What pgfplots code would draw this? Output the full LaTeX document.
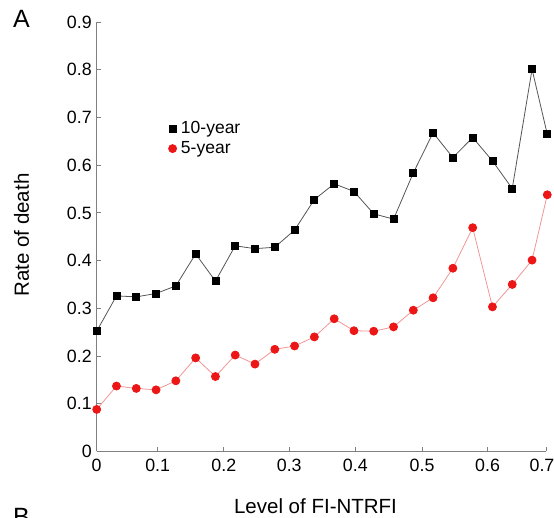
\documentclass[border=0pt]{standalone}
\usepackage{fontspec}
\setmainfont{Liberation Sans}
\usepackage{pgfplots}
\usepackage{pgfplotstable}
\pgfplotsset{compat=1.18}

\definecolor{axgray}{RGB}{128,128,128}
\definecolor{linegray}{RGB}{85,85,85}
\definecolor{pinkline}{RGB}{240,150,150}
\definecolor{dotred}{RGB}{236,22,22}

% level of FI-NTRFI, 10-year and 5-year rate of death
\pgfplotstableread{
x      tenyr  fiveyr
0.0000 0.252  0.088
0.0308 0.326  0.137
0.0617 0.324  0.132
0.0925 0.331  0.129
0.1233 0.347  0.148
0.1542 0.414  0.196
0.1850 0.357  0.157
0.2158 0.431  0.202
0.2466 0.425  0.183
0.2775 0.428  0.214
0.3083 0.464  0.221
0.3391 0.528  0.240
0.3700 0.561  0.278
0.4008 0.545  0.253
0.4316 0.498  0.252
0.4625 0.487  0.261
0.4933 0.584  0.296
0.5241 0.668  0.322
0.5549 0.616  0.384
0.5858 0.658  0.469
0.6166 0.609  0.303
0.6474 0.551  0.350
0.6783 0.801  0.401
0.7020 0.665  0.538
}\deathrates

\begin{document}
\begin{tikzpicture}[x=1pt,y=1pt]
\useasboundingbox (0,0) rectangle (554,518);
\node[anchor=base west,inner sep=0pt,font=\fontsize{25}{28}\selectfont] at (13,490) {A};
\node[anchor=base west,inner sep=0pt,font=\fontsize{25}{28}\selectfont] at (13,-8) {B};
\begin{axis}[
  at={(96.7pt,66.6pt)}, anchor=south west,
  scale only axis, width=449.3pt, height=429.3pt,
  xmin=0, xmax=0.7, ymin=0, ymax=0.9,
  axis x line*=bottom, axis y line*=left,
  axis line style={axgray, line width=0.8pt},
  tick style={axgray, line width=0.8pt},
  tick align=inside, major tick length=4pt,
  xtick={0,0.095,0.198,0.300,0.403,0.507,0.609,0.7},
  xticklabels={0,0.1,0.2,0.3,0.4,0.5,0.6,{\hspace*{-8pt}0.7}},
  ytick={0,0.1,...,0.9},
  yticklabel style={/pgf/number format/fixed, /pgf/number format/precision=1, xshift=-1.5pt},
  xticklabel style={yshift=-4.5pt},
  /pgf/number format/assume math mode=true,
  ticklabel style={font=\fontsize{17.8}{21}\selectfont},
  xlabel={Level of FI-NTRFI},
  ylabel={Rate of death},
  label style={font=\fontsize{20.5}{23}\selectfont},
  xlabel style={at={(axis description cs:0.487,-0.145)}, anchor=base},
  ylabel style={at={(axis description cs:-0.167,0.504)}, anchor=center},
  clip=false,
  legend style={at={(axis description cs:0.152,0.778)}, anchor=north west,
    draw=none, fill=none, font=\fontsize{17.5}{20}\selectfont,
    row sep=2.5pt},
  legend cell align=left,
  legend image code/.code={\draw[#1, only marks] plot coordinates {(0pt,0pt)};
    \path (-4pt,0pt) (6pt,0pt);},
]
\addplot[linegray, line width=0.8pt, mark=square*, mark size=3.5pt,
  mark options={black, fill=black}] table[x=x, y=tenyr] {\deathrates};
\addlegendentry{10-year}
\addplot[pinkline, line width=0.8pt, mark=*, mark size=4pt,
  mark options={dotred, fill=dotred}] table[x=x, y=fiveyr] {\deathrates};
\addlegendentry{5-year}
\end{axis}
\end{tikzpicture}
\end{document}
